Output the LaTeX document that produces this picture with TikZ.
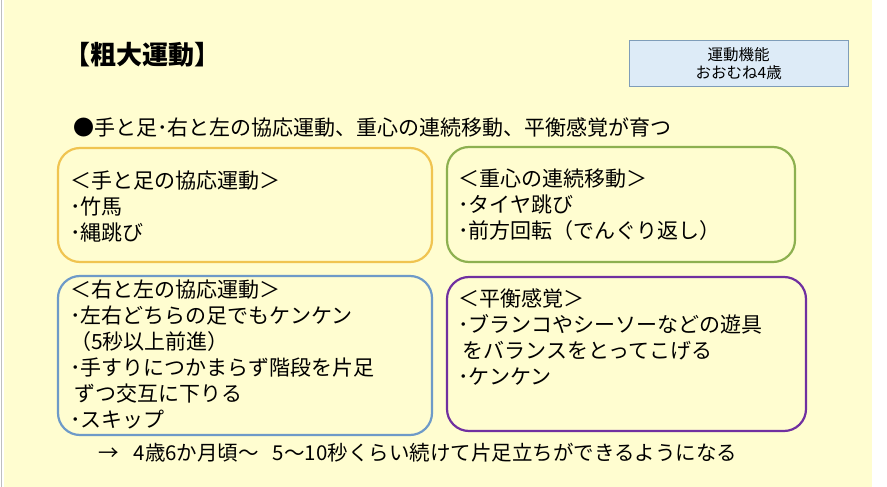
\documentclass[tikz,border=0pt]{standalone}
\usepackage{fontspec}
\setmainfont{Noto Sans CJK JP}
\begin{document}
\begin{tikzpicture}[x=1pt,y=-1pt,
  rbox/.style={draw,line width=2.2pt,rounded corners=22pt},
  txt/.style={anchor=north west,align=left,inner sep=0pt,font=\fontsize{21}{26}\selectfont},
]
\useasboundingbox (0,0) rectangle (887,487);
\fill[white] (0,0) rectangle (887,487);
\fill[fill={rgb,255:red,255;green,253;blue,208}] (4,0) rectangle (872,487);
\draw[gray!50,line width=1pt] (1,0) -- (1,487);
\node[draw={rgb,255:red,127;green,157;blue,185},fill={rgb,255:red,221;green,235;blue,247},minimum width=219pt,minimum height=46pt,anchor=north west,align=center,font=\fontsize{15.5}{18}\selectfont,inner sep=0pt] (tag) at (629,40) {運動機能\\おおむね4歳};
\node[anchor=west,inner sep=0pt,font=\fontsize{26}{30}\bfseries] (title) at (64,55) {【粗大運動】};
\node[anchor=west,inner sep=0pt,font=\fontsize{21}{26}\selectfont] (lead) at (73,128) {●手と足･右と左の協応運動、重心の連続移動、平衡感覚が育つ};
\draw[rbox,draw={rgb,255:red,240;green,196;blue,80}] (58,148) rectangle (432,262);
\draw[rbox,draw={rgb,255:red,141;green,176;blue,80}] (447,147) rectangle (795,262);
\draw[rbox,draw={rgb,255:red,110;green,154;blue,200}] (58,276) rectangle (432,435);
\draw[rbox,draw={rgb,255:red,112;green,48;blue,160}] (447,277) rectangle (806,431);
\node[txt] (a) at (70,171) {＜手と足の協応運動＞\\･竹馬\\･縄跳び};
\node[txt] (b) at (458,169) {＜重心の連続移動＞\\･タイヤ跳び\\･前方回転（でんぐり返し）};
\node[txt] (c) at (70,280) {＜右と左の協応運動＞\\･左右どちらの足でもケンケン\\ （5秒以上前進）\\･手すりにつかまらず階段を片足\\ \ ずつ交互に下りる\\･スキップ};
\node[txt] (d) at (458,289) {＜平衡感覚＞\\･ブランコやシーソーなどの遊具\\ \ をバランスをとってこげる\\･ケンケン};
\node[anchor=west,inner sep=0pt,font=\fontsize{20.5}{24}\selectfont] (bottom) at (98,453) {→\hspace{15pt}4歳6か月頃～\hspace{14pt}5～10秒くらい続けて片足立ちができるようになる};
\end{tikzpicture}
\end{document}
